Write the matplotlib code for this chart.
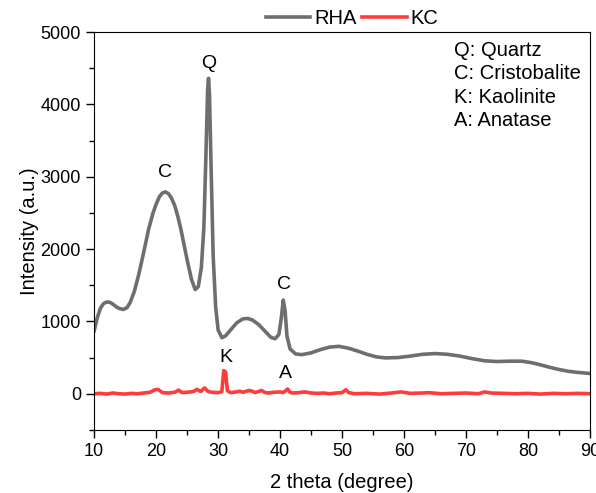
import matplotlib.pyplot as plt
from matplotlib.ticker import MultipleLocator

plt.rcParams['font.family'] = ['Liberation Sans', 'DejaVu Sans']

# RHA pattern
rha_x = [10.0, 10.5, 11.0, 11.5, 12.0, 12.5, 13.0, 13.5, 14.0, 14.7, 15.3, 15.8, 16.5,
         17.2, 18.0, 18.8, 19.5, 20.0, 20.5, 21.0, 21.5, 22.0, 22.5, 23.0, 23.5, 24.0,
         24.5, 25.0, 25.7, 26.3, 26.8, 27.3, 27.7, 28.0, 28.3, 28.45, 28.6, 28.9, 29.2,
         29.6, 30.0, 30.6, 31.2, 32.0, 33.0, 34.0, 34.8, 35.5, 36.5, 37.5, 38.5, 39.2,
         39.8, 40.2, 40.5, 40.8, 41.1, 41.6, 42.5, 43.5, 45.0, 46.5, 48.0, 49.5, 51.0,
         52.5, 54.0, 55.5, 57.0, 59.0, 61.0, 63.0, 65.0, 67.0, 69.0, 71.0, 73.0, 75.0,
         77.0, 79.0, 80.5, 82.0, 83.5, 85.0, 86.5, 88.0, 90.0]
rha_y = [870, 1050, 1180, 1245, 1268, 1265, 1240, 1205, 1180, 1165, 1190, 1260, 1420,
         1650, 1960, 2280, 2500, 2620, 2720, 2775, 2790, 2765, 2700, 2600, 2450, 2270,
         2060, 1850, 1580, 1440, 1480, 1750, 2300, 3200, 4200, 4360, 4150, 3000, 1900,
         1200, 880, 775, 800, 880, 980, 1035, 1040, 1020, 960, 870, 780, 760,
         820, 1050, 1295, 1150, 800, 620, 550, 540, 565, 610, 645, 655, 630,
         590, 545, 510, 495, 500, 520, 545, 555, 545, 520, 485, 455, 445,
         450, 450, 430, 400, 365, 335, 310, 295, 280]

# KC pattern
kc_x = [10, 11, 12, 13, 14, 15, 16, 17, 18, 19, 19.8, 20.3, 21, 22, 23, 23.6, 24.2, 25,
        26, 26.6, 27.2, 27.8, 28.4, 29, 30, 30.6, 30.9, 31.2, 31.5, 32, 33, 33.5, 34,
        35, 35.5, 36, 37, 37.5, 38, 39, 40, 40.5, 41.2, 41.6, 42, 43, 44, 45, 46, 47,
        48, 49, 50, 50.6, 51.1, 52, 54, 56, 58, 59.5, 61, 63, 64, 66, 68, 70, 72, 73,
        74, 76, 78, 80, 82, 84, 86, 88, 90]
kc_y = [0, 5, -5, 10, 0, -5, 5, 0, 10, 20, 55, 60, 15, 10, 20, 50, 15, 20,
        30, 60, 30, 80, 30, 20, 15, 30, 320, 300, 40, 15, 25, 35, 20,
        45, 35, 15, 45, 20, 10, 20, 25, 15, 65, 20, 10, 15, 25, 10, 5, 10,
        0, 10, 15, 55, 15, 0, 5, -5, 10, 25, 5, 10, 15, 0, 5, 10, 0, 25,
        10, 5, 0, 5, -5, 5, 0, 5, 0]

peak_labels = ['C', 'Q', 'C', 'K', 'A']
peak_x = [21.5, 28.4, 40.6, 31.3, 40.8]
peak_y = [3060, 4560, 1510, 500, 280]
phases = ['Q: Quartz', 'C: Cristobalite', 'K: Kaolinite', 'A: Anatase']

fig, ax = plt.subplots(figsize=(5.96, 4.93), dpi=100)
fig.subplots_adjust(left=0.158, right=0.99, top=0.935, bottom=0.128)

ax.plot(rha_x, rha_y, color='#6e6e6e', lw=2.6, label='RHA')
ax.plot(kc_x, kc_y, color='#ff3b3b', lw=2.6, label='KC')

for lab, x, y in zip(peak_labels, peak_x, peak_y):
    ax.text(x, y, lab, ha='center', va='center', fontsize=14)

for i, p in enumerate(phases):
    ax.text(68.0, 4750 - i * 325, p, ha='left', va='center', fontsize=14.5)

ax.set_xlim(10, 90)
ax.set_ylim(-500, 5000)
ax.xaxis.set_major_locator(MultipleLocator(10))
ax.xaxis.set_minor_locator(MultipleLocator(5))
ax.yaxis.set_major_locator(MultipleLocator(1000))
ax.yaxis.set_minor_locator(MultipleLocator(500))
ax.tick_params(which='both', direction='out', labelsize=13, width=1)
ax.tick_params(which='major', length=6)
ax.tick_params(which='minor', length=3.5)
ax.set_xlabel('2 theta (degree)', fontsize=14.5, labelpad=9)
ax.set_ylabel('Intensity (a.u.)', fontsize=14.5, labelpad=1)

ax.legend(loc='lower center', bbox_to_anchor=(0.52, 0.99), ncol=2, frameon=False,
          fontsize=14.5, handlelength=2.2, columnspacing=0.3, handletextpad=0.2,
          borderaxespad=0)

plt.savefig('out.png', dpi=100)
plt.close()
